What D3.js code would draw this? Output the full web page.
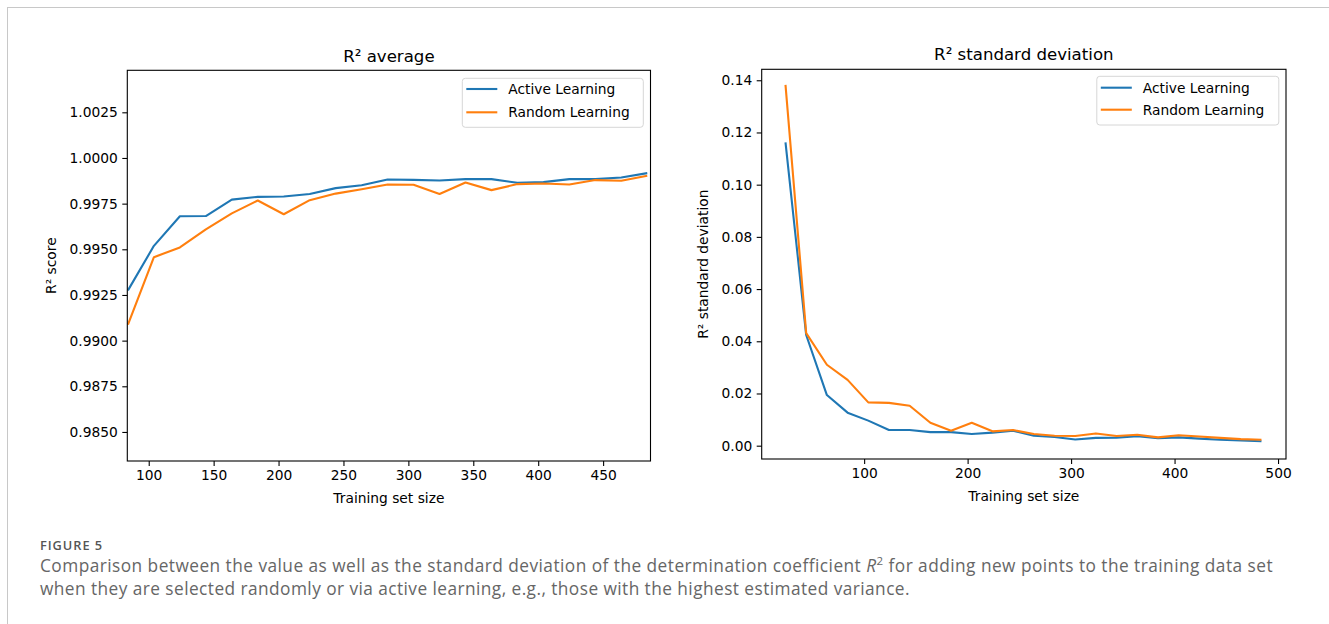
<!DOCTYPE html>
<html>
<head>
<meta charset="utf-8">
<script src="https://cdn.jsdelivr.net/npm/d3@7"></script>
<style>
    body { margin: 0; background: #fff; }
    svg { display: block; }
    .tick text { font-family: "DejaVu Sans", sans-serif; }
</style>
</head>
<body>
<svg id="figure" width="1329" height="624"></svg>
<script>
//data
const seriesNames = ["Active Learning", "Random Learning"];
const seriesColors = ["#1f77b4", "#ff7f0e"];

const avgSizes = [84, 104, 124, 144, 164, 184, 204, 224, 244, 264, 284, 304, 324, 344, 364, 384, 404, 424, 444, 464, 484];
const avgActive = [0.99275, 0.99519, 0.99681, 0.99682, 0.99772, 0.99787, 0.99789, 0.99803, 0.99835, 0.99851, 0.99882,
    0.99880, 0.99877, 0.99884, 0.99884, 0.99864, 0.99868, 0.99884, 0.99884, 0.99893, 0.99917];
const avgRandom = [0.99088, 0.99457, 0.99510, 0.99609, 0.99697, 0.99767, 0.99692, 0.99769, 0.99805, 0.99829, 0.99855,
    0.99853, 0.99803, 0.99866, 0.99824, 0.99857, 0.99860, 0.99855, 0.99879, 0.99875, 0.99903];
const avgXTicks = [100, 150, 200, 250, 300, 350, 400, 450];
const avgYTicks = [0.9850, 0.9875, 0.9900, 0.9925, 0.9950, 0.9975, 1.0000, 1.0025];

const stdSizes = [24, 44, 64, 84, 104, 124, 144, 164, 184, 204, 224, 244, 264, 284, 304, 324, 344, 364, 384, 404, 424, 444, 464, 484];
const stdActive = [0.1162, 0.0424, 0.0194, 0.01265, 0.0096, 0.0060, 0.0060, 0.0052, 0.0052, 0.0045, 0.0050, 0.0057,
    0.0038, 0.0033, 0.0024, 0.0030, 0.0031, 0.0036, 0.0029, 0.0032, 0.0027, 0.0023, 0.0020, 0.0017];
const stdRandom = [0.1382, 0.0431, 0.0310, 0.0252, 0.0166, 0.0164, 0.0153, 0.0088, 0.0057, 0.0088, 0.0055, 0.0060,
    0.0045, 0.0038, 0.0037, 0.0047, 0.0037, 0.0042, 0.0032, 0.0040, 0.0035, 0.0030, 0.0025, 0.0023];
const stdXTicks = [100, 200, 300, 400, 500];
const stdYTicks = [0.00, 0.02, 0.04, 0.06, 0.08, 0.10, 0.12, 0.14];

const captionLabel = "FIGURE 5";
const captionLine1 = ["Comparison between the value as well as the standard deviation of the determination coefficient ", "R", "2", " for adding new points to the training data set"];
const captionLine2 = "when they are selected randomly or via active learning, e.g., those with the highest estimated variance.";

const FONT = '"DejaVu Sans", sans-serif';
const CAPTION_FONT = '"Open Sans", sans-serif';
const TICK_SIZE = 13.8;
const svg = d3.select("#figure");

//page frame
svg.append("line").attr("x1", 7).attr("x2", 1329).attr("y1", 7.5).attr("y2", 7.5).attr("stroke", "#c8c8c8");
svg.append("line").attr("x1", 7.5).attr("x2", 7.5).attr("y1", 7).attr("y2", 624).attr("stroke", "#c8c8c8");

function drawPanel(p){
    let g = svg.append("g");
    let xScale = d3.scaleLinear().domain(p.xDomain).range([p.left, p.right]);
    let yScale = d3.scaleLinear().domain(p.yDomain).range([p.bottom, p.top]);

    //axes
    g.append("g")
        .attr("transform", "translate(0," + p.bottom + ")")
        .call(d3.axisBottom(xScale).tickValues(p.xTicks).tickFormat(d3.format("d")).tickSize(5).tickPadding(4.5).tickSizeOuter(0))
        .call(a => a.select(".domain").remove());
    g.append("g")
        .attr("transform", "translate(" + p.left + ",0)")
        .call(d3.axisLeft(yScale).tickValues(p.yTicks).tickFormat(d3.format(p.yFormat)).tickSize(5).tickPadding(4.5).tickSizeOuter(0))
        .call(a => a.select(".domain").remove());
    g.selectAll(".tick line").attr("stroke", "#000").attr("stroke-width", 1.1);
    g.selectAll(".tick text").attr("font-size", TICK_SIZE).attr("fill", "#000");

    //lines
    let line = d3.line().x(d => xScale(d[0])).y(d => yScale(d[1]));
    p.series.forEach((values, i) => {
        g.append("path")
            .datum(p.x.map((v, j) => [v, values[j]]))
            .attr("fill", "none")
            .attr("stroke", seriesColors[i])
            .attr("stroke-width", 2.1)
            .attr("stroke-linejoin", "round")
            .attr("d", line);
    });

    //frame
    g.append("rect")
        .attr("x", p.left).attr("y", p.top)
        .attr("width", p.right - p.left).attr("height", p.bottom - p.top)
        .attr("fill", "none").attr("stroke", "#000").attr("stroke-width", 1.1);

    //titles
    g.append("text").attr("x", (p.left + p.right) / 2).attr("y", p.titleY)
        .attr("text-anchor", "middle").attr("font-family", FONT).attr("font-size", 16.6)
        .text(p.title);
    g.append("text").attr("x", (p.left + p.right) / 2).attr("y", p.xLabelY)
        .attr("text-anchor", "middle").attr("font-family", FONT).attr("font-size", TICK_SIZE)
        .text("Training set size");
    g.append("text")
        .attr("transform", "translate(" + p.yLabelX + "," + (p.top + p.bottom) / 2 + ") rotate(-90)")
        .attr("text-anchor", "middle").attr("font-family", FONT).attr("font-size", TICK_SIZE)
        .text(p.yLabel);

    //legend
    let lg = p.legend;
    g.append("rect")
        .attr("x", lg.x).attr("y", lg.y).attr("width", lg.w).attr("height", lg.h)
        .attr("rx", 3).attr("fill", "#fff").attr("fill-opacity", 0.8)
        .attr("stroke", "#d6d6d6").attr("stroke-width", 1);
    seriesNames.forEach((name, i) => {
        let cy = lg.y + lg.first + i * lg.step;
        g.append("line")
            .attr("x1", lg.x + 4).attr("x2", lg.x + 35).attr("y1", cy).attr("y2", cy)
            .attr("stroke", seriesColors[i]).attr("stroke-width", 2.1);
        g.append("text")
            .attr("x", lg.x + 46).attr("y", cy + 5)
            .attr("font-family", FONT).attr("font-size", TICK_SIZE)
            .text(name);
    });
}

drawPanel({
    left: 127.3, right: 650.5, top: 70.3, bottom: 461,
    xDomain: [83.5, 486.5], yDomain: [0.98341, 1.0048],
    xTicks: avgXTicks, yTicks: avgYTicks, yFormat: ".4f",
    x: avgSizes, series: [avgActive, avgRandom],
    title: "R\u00b2 average", titleY: 61.7, xLabelY: 502.5,
    yLabel: "R\u00b2 score", yLabelX: 56,
    legend: {x: 462.3, y: 78.3, w: 181, h: 49, first: 10.7, step: 23.3}
});

drawPanel({
    left: 761.7, right: 1286, top: 69.3, bottom: 459,
    xDomain: [1, 507.7], yDomain: [-0.0051, 0.1442],
    xTicks: stdXTicks, yTicks: stdYTicks, yFormat: ".2f",
    x: stdSizes, series: [stdActive, stdRandom],
    title: "R\u00b2 standard deviation", titleY: 59.5, xLabelY: 500.5,
    yLabel: "R\u00b2 standard deviation", yLabelX: 708,
    legend: {x: 1096.8, y: 76.3, w: 182, h: 48.7, first: 11.4, step: 22}
});

//caption, nudged by letter spacing to the reference widths
function fitWidth(sel, target){
    let measured = sel.node().getComputedTextLength();
    let chars = sel.text().length;
    sel.attr("letter-spacing", (target - measured) / chars);
}

let label = svg.append("text").attr("x", 40).attr("y", 550)
    .attr("font-family", CAPTION_FONT).attr("font-weight", 600).attr("font-size", 12.8)
    .attr("fill", "#555").text(captionLabel);
fitWidth(label, 63);

let cap1 = svg.append("text").attr("x", 40).attr("y", 572)
    .attr("font-family", CAPTION_FONT).attr("font-size", 17.3).attr("fill", "#666");
cap1.append("tspan").text(captionLine1[0]);
cap1.append("tspan").attr("font-style", "italic").text(captionLine1[1]);
cap1.append("tspan").attr("font-size", 11.5).attr("dy", -7.5).text(captionLine1[2]);
cap1.append("tspan").attr("dy", 7.5).text(captionLine1[3]);
fitWidth(cap1, 1233);

let cap2 = svg.append("text").attr("x", 40).attr("y", 594.5)
    .attr("font-family", CAPTION_FONT).attr("font-size", 17.3).attr("fill", "#666")
    .text(captionLine2);
fitWidth(cap2, 870);
</script>
</body>
</html>
